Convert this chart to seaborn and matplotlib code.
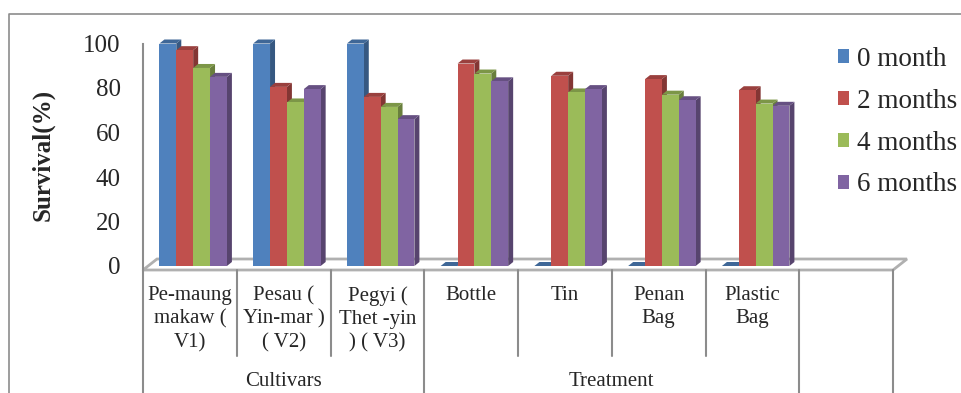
import numpy as np
import pandas as pd
import seaborn as sns
import matplotlib.pyplot as plt
from matplotlib.patches import Polygon
from matplotlib.lines import Line2D
from matplotlib.colors import to_rgb
from matplotlib import transforms as mtrans

# data
categories = ["Pe-maung\nmakaw (\nV1)", "Pesau (\nYin-mar )\n( V2)", "Pegyi (\nThet -yin\n) ( V3)",
              "Bottle", "Tin", "Penan\nBag", "Plastic\nBag"]
groups = ["Cultivars", "Treatment"]
group_sizes = [3, 4]
series = ["0 month", "2 months", "4 months", "6 months"]
month0 = [100, 100, 100, 0, 0, 0, 0]
month2 = [97, 80.5, 76, 91, 85.5, 84, 79]
month4 = [89, 73.5, 71.5, 86.5, 78, 77, 73]
month6 = [85, 79.5, 66, 83, 79.5, 74.5, 72]
yticks = [0, 20, 40, 60, 80, 100]

colors = ["#4F81BD", "#C0504D", "#9BBB59", "#8064A2"]
gray = "#8c8c8c"

df = pd.DataFrame({"cat": categories, series[0]: month0, series[1]: month2,
                   series[2]: month4, series[3]: month6})
long = df.melt(id_vars="cat", var_name="series", value_name="val")

sns.set_style("white")
plt.rcParams["font.family"] = ["Liberation Serif", "DejaVu Serif"]

W, H = 961, 393
fig = plt.figure(figsize=(W / 100, H / 100), dpi=100)
ax_left, ax_right, ax_bot, ax_top = 143, 893, 270, 30
ax = fig.add_axes([ax_left / W, 1 - ax_bot / H, (ax_right - ax_left) / W, (ax_bot - ax_top) / H])

sns.barplot(data=long, x="cat", y="val", hue="series", order=categories, hue_order=series,
            palette=colors, saturation=1, width=0.72, gap=0, errorbar=None,
            linewidth=0, ax=ax, zorder=3)

px_per_unit = 2.225
ymin = -(ax_bot - 266) / px_per_unit
ymax = ymin + (ax_bot - ax_top) / px_per_unit
ax.set_xlim(-0.5, 7.5)
ax.set_ylim(ymin, ymax)
ax.set_xticks([])
ax.set_xlabel("")
ax.set_ylabel("")
ax.set_yticks(yticks)
ax.tick_params(axis="y", direction="in", length=8, width=1.3, color=gray,
               labelsize=18, pad=16)
for s in ["top", "right", "bottom"]:
    ax.spines[s].set_visible(False)
ax.spines["left"].set_color(gray)
ax.spines["left"].set_linewidth(1.5)
ax.spines["left"].set_bounds(ymin, 100)
for t in ax.get_yticklabels():
    t.set_y(t.get_position()[1])

handles, labels = ax.get_legend_handles_labels()
if ax.get_legend() is not None:
    ax.get_legend().remove()

# pseudo 3D faces of the bars (pixel space, drawn behind the front faces)
ident = mtrans.IdentityTransform()
dx, dy = 5, 4
bars = list(ax.patches)
for p in bars:
    p.set_x(p.get_x() + 0.035)  # bars sit a little to the right in the 3D view
    p.set_clip_on(False)
    x0, w, h = p.get_x(), p.get_width(), p.get_height()
    c = np.array(to_rgb(p.get_facecolor()))
    br = ax.transData.transform((x0 + w, 0))
    tl = ax.transData.transform((x0, h))
    tr = ax.transData.transform((x0 + w, h))
    off = np.array([dx, dy])
    side = Polygon([br, tr, tr + off, br + off], closed=True, transform=ident,
                   facecolor=c * 0.68, edgecolor="none", zorder=2, clip_on=False)
    top = Polygon([tl, tr, tr + off, tl + off], closed=True, transform=ident,
                  facecolor=c * 0.8, edgecolor="none", zorder=2, clip_on=False)
    ax.add_artist(side)
    ax.add_artist(top)

# floor
fl = ax.transData.transform((-0.5, ymin))
fr = ax.transData.transform((7.5, ymin))
foff = np.array([14, 11])
floor = Polygon([fl, fr, fr + foff, fl + foff], closed=True, transform=ident,
                facecolor="white", edgecolor="#b0b0b0", lw=2, zorder=1, clip_on=False)
ax.add_artist(floor)

# category labels and dividers
blend = mtrans.blended_transform_factory(ax.transData, fig.transFigure)
all_cats = categories + [""]
for i, lab in enumerate(all_cats):
    ax.text(i, 1 - 286 / H, lab, transform=blend, ha="center", va="top",
            fontsize=15, linespacing=1.3)
edges = np.cumsum([0] + group_sizes + [1]) - 0.5
for k in range(len(all_cats) + 1):
    xe = k - 0.5
    full = np.any(np.isclose(edges, xe))
    y_end = 0 if full else 1 - 356 / H
    ax.plot([xe, xe], [1 - ax_bot / H, y_end], transform=blend, color=gray,
            lw=1.5, clip_on=False)
for g, n, start in zip(groups, group_sizes, edges[:-2]):
    ax.text(start + n / 2, 1 - 381 / H, g, transform=blend, ha="center", va="center",
            fontsize=15)

fig.text(43 / W, 1 - 155 / H, "Survival(%)", rotation=90, ha="center", va="center",
         fontsize=18, fontweight="bold")

ax.legend(handles, labels, loc="upper left", bbox_to_anchor=(838 / W, 1 - 47 / H),
          bbox_transform=fig.transFigure, frameon=False, fontsize=19.5,
          handlelength=0.4, handleheight=0.4, handletextpad=0.3, labelspacing=0.62,
          borderpad=0, borderaxespad=0)

# chart border
fig.add_artist(Line2D([9 / W, 9 / W, 1], [0, 1 - 14 / H, 1 - 14 / H],
                      transform=fig.transFigure, color=gray, lw=1.2))

fig.savefig("out.png", dpi=100)
